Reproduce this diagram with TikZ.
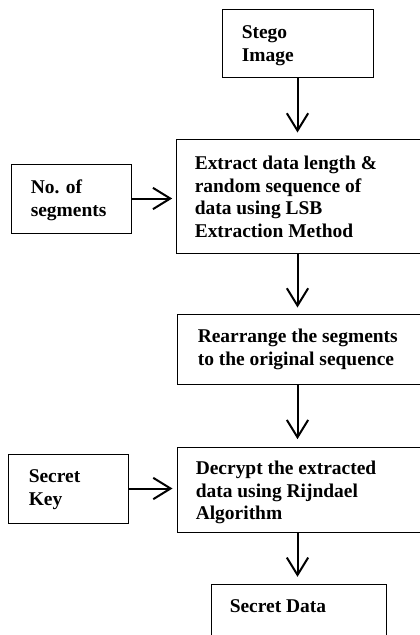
\documentclass[tikz,border=0pt]{standalone}
\usepackage{fontspec}
\setmainfont{Liberation Serif}
\usetikzlibrary{arrows.meta,fit}

\begin{document}
\begin{tikzpicture}[x=0.75pt,y=-0.75pt]

\tikzstyle{box}=[draw, line width=0.75pt, inner sep=0pt]
\tikzstyle{txt}=[anchor=north west, inner sep=0pt, align=left, font=\fontsize{14.6}{17}\selectfont\bfseries]
\tikzstyle{arr}=[draw, line width=1.5pt, -{Straight Barb[length=13pt,width=16pt]}]

\useasboundingbox (0,0) rectangle (419,635);

% main column
\node[box, fit={(222,10) (373,78)}] (stego) {};
\node[box, fit={(176,139) (430,253)}] (extract) {};
\node[box, fit={(177,314) (430,384)}] (rearr) {};
\node[box, fit={(177,447) (430,532)}] (decrypt) {};
\node[box, fit={(211,584) (386,650)}] (secdata) {};

% side inputs
\node[box, fit={(11,164) (131,233)}] (nseg) {};
\node[box, fit={(8,454) (128,523)}] (key) {};

\node[txt] (stegotxt) at ([shift={(20,13)}]stego.north west) {\strut Stego\\Image};
\node[txt] (extracttxt) at ([shift={(19,15)}]extract.north west) {\strut Extract data length \&\\random sequence of\\data using LSB\\Extraction Method};
\node[txt] (rearrtxt) at ([shift={(21,13)}]rearr.north west) {\strut Rearrange the segments\\to the original sequence};
\node[txt] (decrypttxt) at ([shift={(19,12)}]decrypt.north west) {\strut Decrypt the extracted\\data using Rijndael\\Algorithm};
\node[txt] (secdatatxt) at ([shift={(19,13)}]secdata.north west) {\strut Secret Data};
\node[txt] (nsegtxt) at ([shift={(20,14)}]nseg.north west) {\strut No. of\\segments};
\node[txt] (keytxt) at ([shift={(21,13)}]key.north west) {\strut Secret\\Key};

% arrows down
\draw[arr, shorten >=4.5pt] (stego.south) -- (stego.south |- extract.north);
\draw[arr, shorten >=4.5pt] (extract.south -| stego.south) -- (rearr.north -| stego.south);
\draw[arr, shorten >=5.5pt] (rearr.south -| stego.south) -- (decrypt.north -| stego.south);
\draw[arr, shorten >=5pt] (decrypt.south -| stego.south) -- (secdata.north -| stego.south);

% arrows in
\draw[arr, shorten >=2.5pt] (nseg.east) -- (nseg.east -| extract.west);
\draw[arr, shorten >=3pt] (key.east) -- (key.east -| decrypt.west);

\end{tikzpicture}
\end{document}
